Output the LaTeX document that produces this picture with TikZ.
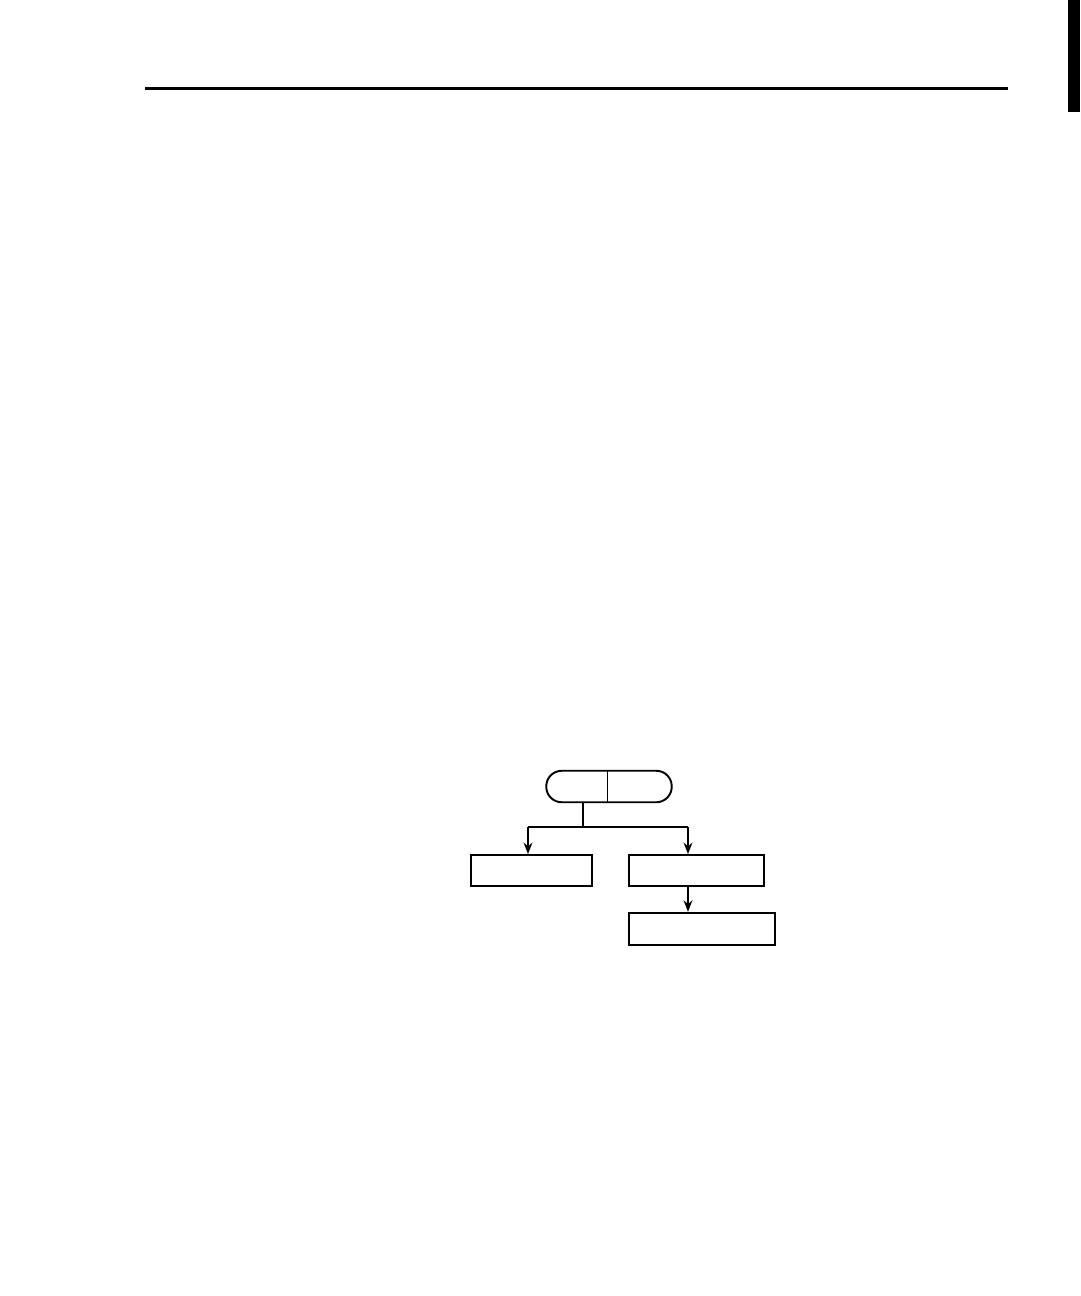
\documentclass[tikz,border=0pt]{standalone}
\usetikzlibrary{arrows.meta}
\tikzset{
  box/.style={draw,line width=1.1pt,rectangle,minimum height=0.62cm,inner sep=0pt},
  pill/.style={draw,line width=1.1pt,rectangle,rounded corners=0.31cm,minimum width=2.51cm,minimum height=0.63cm,inner sep=0pt},
  link/.style={line width=1.1pt},
  arr/.style={link,-{Stealth[length=6.5pt,width=5pt]}}
}
\begin{document}
\begin{tikzpicture}[x=0.02cm,y=-0.02cm]
\useasboundingbox (0,0) rectangle (1080,1296);
\fill (1068,0) rectangle (1080,112);
\draw[line width=1.7pt] (145,88) -- (1008,88);
\node[pill] (top) at (609,786.5) {};
\draw[thin] (607,771) -- (607,802);
\node[box,minimum width=2.43cm] (leftbox) at (531.5,870.5) {};
\node[box,minimum width=2.7cm] (rightbox) at (696.5,870.5) {};
\node[box,minimum width=2.92cm,minimum height=0.65cm] (botbox) at (702,929) {};
\coordinate (stem) at (583,827);
\coordinate (jl) at (528,827);
\coordinate (jr) at (688,827);
\draw[link] (stem |- top.south) -- (stem);
\draw[link] (jl) -- (jr);
\draw[arr] (jl) -- (jl |- leftbox.north);
\draw[arr] (jr) -- (jr |- rightbox.north);
\draw[arr] (jr |- rightbox.south) -- (jr |- botbox.north);
\end{tikzpicture}
\end{document}
